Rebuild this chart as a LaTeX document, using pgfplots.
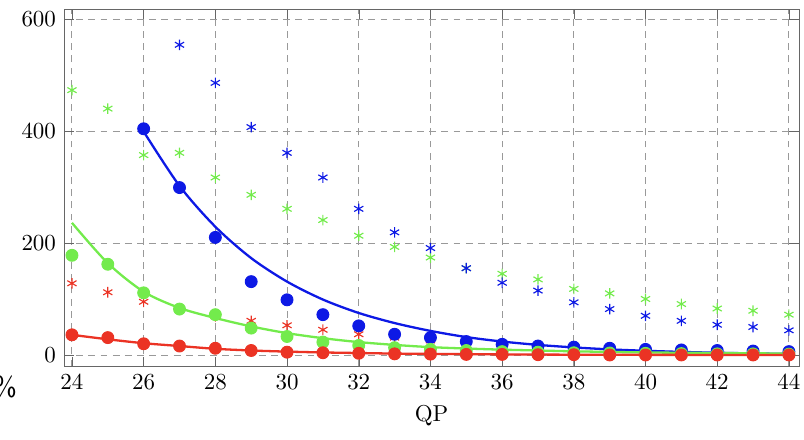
\documentclass[border=0pt]{standalone}
\usepackage{pgfplots}
\pgfplotsset{compat=1.18}
\definecolor{cblue}{rgb}{0.05,0.1,0.9}
\definecolor{cgreen}{rgb}{0.45,0.92,0.3}
\definecolor{cred}{rgb}{0.92,0.2,0.14}
\begin{document}
\begin{tikzpicture}
\begin{axis}[
  scale only axis,
  width=320pt, height=155.6pt,
  xmin=23.78, xmax=44.28,
  ymin=-19.6, ymax=618.6,
  xtick={24,26,...,44},
  ytick={0,200,400,600},
  grid=major,
  major grid style={gray!80, line width=0.4pt, dash pattern=on 3pt off 2.3pt},
  axis line style={black!60},
  tick style={black!60},
  xlabel={QP},
  clip=true,
]
% stars
\addplot[only marks, mark=asterisk, mark size=2.3pt, color=cgreen, mark options={line width=0.5pt}] coordinates {
(24,474)(25,441)(26,358)(27,362)(28,318)(29,287)(30,262)(31,242)(32,214)(33,194)(34,175)(35,156)(36,146)(37,136)(38,119)(39,111)(40,101)(41,92)(42,84)(43,80)(44,73)};
\addplot[only marks, mark=asterisk, mark size=2.3pt, color=cblue, mark options={line width=0.5pt}] coordinates {
(27,555)(28,487)(29,408)(30,362)(31,318)(32,262)(33,220)(34,192)(35,156)(36,130)(37,116)(38,95)(39,83)(40,71)(41,62)(42,55)(43,51)(44,45)};
\addplot[only marks, mark=asterisk, mark size=2.3pt, color=cred, mark options={line width=0.5pt}] coordinates {
(24,129)(25,113)(26,96)(27,82)(28,70)(29,62)(30,54)(31,46)(32,38)(33,32)(34,27)(35,23)(36,20)(37,17)(38,15)(39,13)(40,11)(41,10)(42,9)(43,8)(44,7)};
% blue fit and points
\addplot[smooth, no marks, color=cblue, line width=1pt] coordinates {
(26,400)(27,303)(28,230)(29,174)(30,132)(31,100)(32,76)(33,58)(34,44)(35,33)(36,25)(37,19)(38,14.5)(39,11)(40,8.5)(41,6.5)(42,5)(43,3.8)(44,2.9)};
\addplot[only marks, mark=*, mark size=2.6pt, color=cblue] coordinates {
(26,405)(27,300)(28,211)(29,132)(30,99.5)(31,73)(32,53)(33,38)(34,32)(35,25)(36,20)(37,17)(38,15)(39,13)(40,11)(41,10)(42,9)(43,8)(44,7)};
% green fit and points
\addplot[smooth, no marks, color=cgreen, line width=1pt] coordinates {
(24,237)(25,165)(26,114)(27,85)(28,67)(29,52)(30,40)(31,31)(32,24)(33,19)(34,15)(35,12.5)(36,10.5)(37,9)(38,7.5)(39,6.5)(40,5.5)(41,5)(42,4.5)(43,4)(44,3.5)};
\addplot[only marks, mark=*, mark size=2.6pt, color=cgreen] coordinates {
(24,179)(25,163)(26,112)(27,83)(28,73)(29,49)(30,34)(31,24)(32,18)(33,14)(34,11)(35,9)(36,7)(37,6)(38,5)(39,4.5)(40,4)(41,3.5)(42,3)(43,3)(44,2.5)};
% red fit and points
\addplot[smooth, no marks, color=cred, line width=1pt] coordinates {
(24,37)(25,29)(26,22)(27,17)(28,12)(29,9)(30,7)(31,5.5)(32,4.5)(33,3.5)(34,3)(35,2.5)(36,2)(38,1.5)(40,1.2)(42,1.1)(44,1)};
\addplot[only marks, mark=*, mark size=2.6pt, color=cred] coordinates {
(24,37)(25,32)(26,21)(27,17)(28,13)(29,9)(30,6)(31,5)(32,4)(33,3)(34,2.5)(35,2)(36,2)(37,1.5)(38,1.5)(39,1)(40,1)(41,1)(42,1)(43,1)(44,1)};
\end{axis}
\node[font=\fontsize{12}{14}\sffamily, anchor=center] at (-25.5pt,-8.8pt) {\%};
\pgfresetboundingbox
\path[use as bounding box] (-27.9pt,-31.9pt) rectangle (322.2pt,159.6pt);
\end{tikzpicture}
\end{document}
